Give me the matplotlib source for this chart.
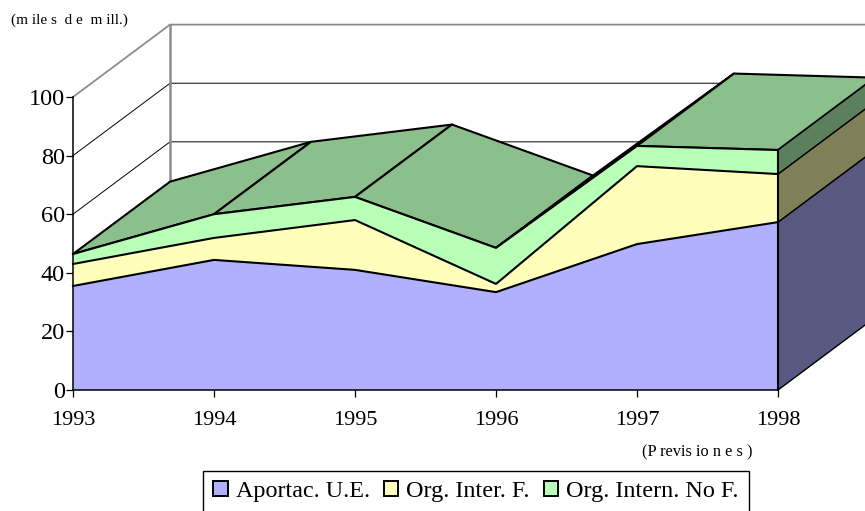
import matplotlib
matplotlib.use("Agg")
import matplotlib.pyplot as plt
from matplotlib.patches import Patch
import numpy as np

plt.rcParams['font.family'] = ['Liberation Serif', 'DejaVu Serif']

years = [1993, 1994, 1995, 1996, 1997, 1998]
aportac = [35.5, 44.4, 41.0, 33.4, 49.8, 57.3]
org_inter_f = [7.5, 7.5, 17.0, 2.8, 26.6, 16.4]
org_intern_nof = [3.4, 8.1, 7.9, 12.3, 6.9, 8.2]
labels = ['Aportac. U.E.', 'Org. Inter. F.', 'Org. Intern. No F.']
y_ticks = [0, 20, 40, 60, 80, 100]

front_colors = ['#B0B0FF', '#FFFFBB', '#B8FFB8']
side_colors = ['#585880', '#808058', '#5C805C']
top_color = '#8BBF8B'
wall_color = '#8C8C8C'

# depth of the 3d box, in data units
dx = 0.688
dy = 24.7
x_end = 2000

W, H = 865, 511
fig = plt.figure(figsize=(W / 100, H / 100), dpi=100)
ax = fig.add_axes([73 / W, (H - 390) / H, 705 / W, 293 / H])
ax.set_xlim(1993, 1998)
ax.set_ylim(0, 100)
ax.patch.set_alpha(0)

x = np.array(years, dtype=float)
layers = np.cumsum([aportac, org_inter_f, org_intern_nof], axis=0)
bottoms = np.vstack([np.zeros(len(x)), layers[:-1]])

# back wall and gridlines
for v in y_ticks[1:-1]:
    ax.plot([1993, 1993 + dx, x_end], [v, v + dy, v + dy], color='black', lw=0.7,
            clip_on=False, zorder=1)
ax.plot([1993, 1993 + dx, x_end], [100, 100 + dy, 100 + dy], color=wall_color, lw=1.3,
        clip_on=False, zorder=1)
ax.plot([1993 + dx, 1993 + dx], [dy, 100 + dy], color=wall_color, lw=1.8,
        clip_on=False, zorder=1)

# top surface of the stack
top = layers[-1]
for i in range(len(x) - 1):
    ax.fill([x[i], x[i] + dx, x[i + 1] + dx, x[i + 1]],
            [top[i], top[i] + dy, top[i + 1] + dy, top[i + 1]],
            facecolor=top_color, edgecolor='black', lw=1.5, joinstyle='round',
            clip_on=False, zorder=2 + i * 0.01)

# front faces
for lay, bot, col in zip(layers, bottoms, front_colors):
    ax.fill_between(x, bot, lay, facecolor=col, edgecolor='none', clip_on=False, zorder=3)
    ax.plot(x, lay, color='black', lw=1.5, clip_on=False, zorder=4)

# right side faces
for lay, bot, col in zip(layers, bottoms, side_colors):
    ax.fill([x[-1], x[-1] + dx, x[-1] + dx, x[-1]],
            [bot[-1], bot[-1] + dy, lay[-1] + dy, lay[-1]],
            facecolor=col, edgecolor='black', lw=1.0, clip_on=False, zorder=3)
ax.plot([x[-1], x[-1]], [0, top[-1]], color='black', lw=1.5, clip_on=False, zorder=5)

for s in ['top', 'right']:
    ax.spines[s].set_visible(False)
ax.spines['left'].set_linewidth(1.1)
ax.spines['bottom'].set_linewidth(1.1)
ax.spines['left'].set_zorder(6)
ax.spines['bottom'].set_zorder(6)

ax.set_xticks(years)
ax.set_yticks(y_ticks)
ax.tick_params(axis='x', length=5, width=0.9, labelsize=16, pad=10)
ax.tick_params(axis='y', length=5, width=0.9, labelsize=17.5, pad=1)

fig.text(11 / W, 1 - 20 / H, '(m ile s  d e  m ill.)', fontsize=11, va='center')
fig.text(642 / W, 1 - 452 / H, '(P revis io n e s )', fontsize=11.8, va='center')

handles = [Patch(facecolor=c, edgecolor='black', lw=1.4) for c in front_colors]
leg = fig.legend(handles, labels, ncol=3, loc='lower left',
                 bbox_to_anchor=(203 / W, -1 / H), bbox_transform=fig.transFigure,
                 fontsize=17.4, frameon=True, fancybox=False, edgecolor='black', framealpha=1,
                 handlelength=0.6, handleheight=0.6, handletextpad=0.33, columnspacing=0.58,
                 borderpad=0.42, borderaxespad=0)
leg.get_frame().set_linewidth(1.0)

fig.savefig('out.png', dpi=100)
